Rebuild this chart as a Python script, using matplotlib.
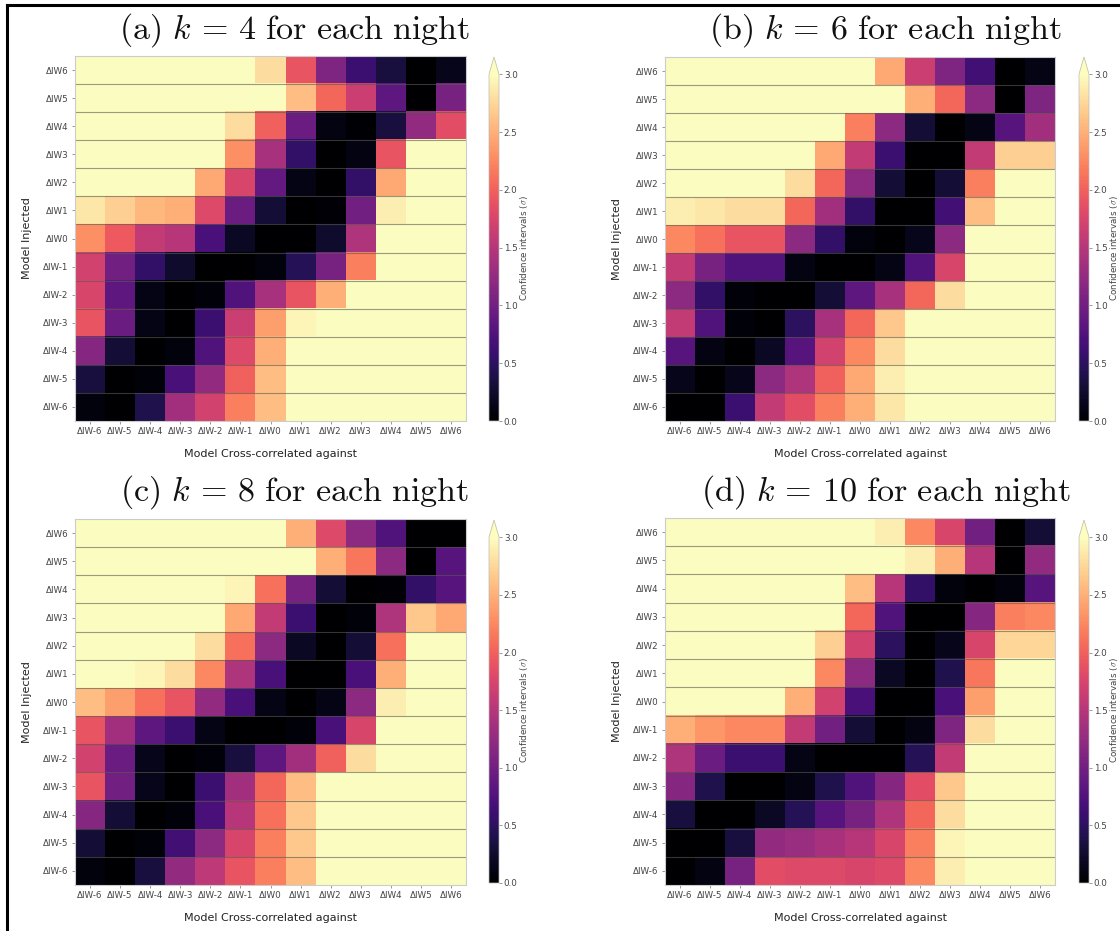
import numpy as np
import matplotlib
matplotlib.use("Agg")
import matplotlib.pyplot as plt
from matplotlib.lines import Line2D

plt.rcParams["mathtext.fontset"] = "cm"
plt.rcParams["font.family"] = ["DejaVu Sans"]

# Model grid: oxygen fugacity offsets relative to the IW buffer
cols = ["ΔIW-6", "ΔIW-5", "ΔIW-4", "ΔIW-3", "ΔIW-2", "ΔIW-1", "ΔIW0",
        "ΔIW1", "ΔIW2", "ΔIW3", "ΔIW4", "ΔIW5", "ΔIW6"]
rows = cols[::-1]  # injected models, top row first

S = 3.5  # saturated (above colour range)

# Confidence intervals (sigma); rows = injected ΔIW6 ... ΔIW-6, cols = ΔIW-6 ... ΔIW6
k4 = [
    [S, S, S, S, S, S, 2.80, 1.90, 1.10, 0.60, 0.35, 0.00, 0.15],
    [S, S, S, S, S, S, S, 2.60, 2.05, 1.65, 0.85, 0.00, 1.05],
    [S, S, S, S, S, 2.80, 2.00, 0.95, 0.10, 0.02, 0.35, 1.25, 1.85],
    [S, S, S, S, S, 2.30, 1.40, 0.55, 0.00, 0.10, 1.90, S, S],
    [S, S, S, S, 2.45, 1.75, 0.90, 0.12, 0.00, 0.55, 2.45, S, S],
    [2.85, 2.70, 2.55, 2.50, 1.80, 0.95, 0.30, 0.00, 0.03, 1.00, 2.90, S, S],
    [2.30, 1.95, 1.60, 1.50, 0.70, 0.20, 0.00, 0.00, 0.25, 1.45, S, S, S],
    [1.70, 1.00, 0.55, 0.25, 0.00, 0.00, 0.08, 0.45, 1.05, 2.20, S, S, S],
    [1.75, 0.85, 0.12, 0.00, 0.05, 0.75, 1.40, 1.90, 2.50, S, S, S, S],
    [1.90, 0.95, 0.12, 0.00, 0.60, 1.65, 2.40, 2.95, S, S, S, S, S],
    [1.15, 0.30, 0.00, 0.08, 0.75, 1.80, 2.50, S, S, S, S, S, S],
    [0.35, 0.00, 0.05, 0.70, 1.25, 2.00, 2.60, S, S, S, S, S, S],
    [0.08, 0.00, 0.40, 1.35, 1.70, 2.20, 2.60, 3.00, S, S, S, S, S],
]

k6 = [
    [S, S, S, S, S, S, S, 2.45, 1.65, 1.10, 0.65, 0.00, 0.12],
    [S, S, S, S, S, S, S, S, 2.50, 2.05, 1.20, 0.00, 1.10],
    [S, S, S, S, S, S, 2.20, 1.20, 0.30, 0.00, 0.12, 0.80, 1.35],
    [S, S, S, S, S, 2.45, 1.60, 0.60, 0.00, 0.00, 1.60, 2.70, 2.70],
    [S, S, S, S, 2.80, 2.05, 1.20, 0.30, 0.00, 0.30, 2.20, S, S],
    [2.90, 2.85, 2.80, 2.80, 2.05, 1.35, 0.55, 0.00, 0.00, 0.65, 2.60, S, S],
    [2.25, 2.10, 1.90, 1.90, 1.20, 0.55, 0.08, 0.00, 0.15, 1.20, S, S, S],
    [1.60, 1.05, 0.75, 0.75, 0.10, 0.00, 0.00, 0.12, 0.75, 1.75, S, S, S],
    [1.20, 0.55, 0.05, 0.00, 0.00, 0.30, 0.85, 1.40, 2.05, 2.80, S, S, S],
    [1.60, 0.75, 0.05, 0.00, 0.50, 1.40, 2.05, 2.65, S, S, S, S, S],
    [0.80, 0.10, 0.00, 0.20, 0.80, 1.70, 2.25, 2.80, S, S, S, S, S],
    [0.15, 0.00, 0.15, 1.20, 1.45, 2.00, 2.45, 2.90, S, S, S, S, S],
    [0.00, 0.00, 0.60, 1.60, 1.85, 2.20, 2.50, 2.85, S, S, S, S, S],
]

k8 = [
    [S, S, S, S, S, S, S, 2.50, 1.80, 1.20, 0.75, 0.00, 0.00],
    [S, S, S, S, S, S, S, S, 2.50, 2.15, 1.20, 0.00, 0.80],
    [S, S, S, S, S, 2.95, 2.10, 1.05, 0.30, 0.00, 0.03, 0.55, 0.80],
    [S, S, S, S, S, 2.45, 1.60, 0.60, 0.00, 0.05, 1.45, 2.65, 2.45],
    [S, S, S, S, 2.80, 2.10, 1.20, 0.20, 0.00, 0.30, 2.10, S, S],
    [S, S, 2.95, 2.80, 2.25, 1.45, 0.70, 0.00, 0.00, 0.70, 2.50, S, S],
    [2.60, 2.40, 2.10, 1.90, 1.25, 0.70, 0.12, 0.00, 0.12, 1.20, 2.90, S, S],
    [1.90, 1.35, 0.85, 0.60, 0.12, 0.00, 0.00, 0.05, 0.70, 1.75, S, S, S],
    [1.70, 0.95, 0.15, 0.00, 0.05, 0.35, 0.85, 1.35, 2.00, 2.80, S, S, S],
    [1.90, 1.00, 0.15, 0.00, 0.60, 1.35, 2.05, 2.60, S, S, S, S, S],
    [1.15, 0.30, 0.00, 0.05, 0.70, 1.50, 2.10, 2.65, S, S, S, S, S],
    [0.30, 0.00, 0.05, 0.65, 1.20, 1.75, 2.20, 2.65, S, S, S, S, S],
    [0.08, 0.00, 0.35, 1.25, 1.55, 1.90, 2.20, 2.60, S, S, S, S, S],
]

k10 = [
    [S, S, S, S, S, S, S, 2.90, 2.25, 1.75, 1.00, 0.00, 0.30],
    [S, S, S, S, S, S, S, S, 2.90, 2.50, 1.50, 0.00, 1.25],
    [S, S, S, S, S, S, 2.60, 1.50, 0.55, 0.08, 0.00, 0.08, 0.80],
    [S, S, S, S, S, S, 2.05, 0.75, 0.00, 0.00, 1.15, 2.20, 2.25],
    [S, S, S, S, S, 2.70, 1.70, 0.50, 0.00, 0.15, 1.75, 2.75, 2.75],
    [S, S, S, S, S, 2.25, 1.20, 0.20, 0.00, 0.40, 2.15, S, S],
    [S, S, S, S, 2.50, 1.70, 0.70, 0.00, 0.00, 0.70, 2.40, S, S],
    [2.50, 2.35, 2.25, 2.25, 1.60, 1.00, 0.30, 0.00, 0.10, 1.10, 2.80, S, S],
    [1.45, 0.95, 0.60, 0.60, 0.12, 0.00, 0.00, 0.00, 0.45, 1.60, S, S, S],
    [1.15, 0.40, 0.00, 0.00, 0.10, 0.40, 0.75, 1.15, 1.85, 2.65, S, S, S],
    [0.35, 0.00, 0.00, 0.20, 0.45, 0.80, 1.05, 1.45, 2.05, 2.80, S, S, S],
    [0.00, 0.00, 0.35, 1.25, 1.30, 1.40, 1.50, 1.75, 2.20, 2.95, S, S, S],
    [0.00, 0.10, 1.05, 1.85, 1.80, 1.80, 1.75, 1.80, 2.25, 2.90, S, S, S],
]

panels = [
    (k4, r"$\mathrm{(a)}\ k\,=\,4\ \mathrm{for\ each\ night}$"),
    (k6, r"$\mathrm{(b)}\ k\,=\,6\ \mathrm{for\ each\ night}$"),
    (k8, r"$\mathrm{(c)}\ k\,=\,8\ \mathrm{for\ each\ night}$"),
    (k10, r"$\mathrm{(d)}\ k\,=\,10\ \mathrm{for\ each\ night}$"),
]

W, H = 1120, 931
fig = plt.figure(figsize=(W / 100, H / 100), dpi=100)


def fx(px):
    return px / W


def fy(py):
    return 1 - py / H


# pixel boxes: (left, top, right, bottom) for heatmap and colorbar
ax_boxes = [(75, 56, 466, 421), (665, 57, 1055, 421),
            (75, 519, 466, 885), (665, 518, 1055, 885)]
cb_boxes = [(489, 57, 499, 421), (1079, 57, 1089, 421),
            (489, 520, 499, 883), (1079, 520, 1089, 883)]
title_pos = [(294, 30), (885, 30), (294, 492), (886, 492)]

cmap = plt.get_cmap("magma")
txt_col = "#444444"

for (data, title), ab, cbb, tp in zip(panels, ax_boxes, cb_boxes, title_pos):
    l, t, r, b = ab
    ax = fig.add_axes([fx(l), fy(b), fx(r - l), (b - t) / H])
    arr = np.array(data)
    im = ax.imshow(arr, cmap=cmap, vmin=0, vmax=3, aspect="auto",
                   interpolation="nearest")
    for yb in np.arange(0.5, len(rows) - 0.5, 1.0):
        ax.axhline(yb, color="#5a5a50", lw=0.8, alpha=0.6)
    ax.set_xticks(range(len(cols)))
    ax.set_xticklabels(cols, fontsize=6.3, color=txt_col)
    ax.set_yticks(range(len(rows)))
    ax.set_yticklabels(rows, fontsize=6.3, color=txt_col)
    ax.tick_params(length=2.5, width=0.6, color="#888888", pad=2)
    for sp in ax.spines.values():
        sp.set_color("#cccccc")
        sp.set_linewidth(0.8)
    ax.set_xlabel("Model Cross-correlated against", fontsize=8, color="#222222",
                  labelpad=9)
    ax.set_ylabel("Model Injected", fontsize=8, color="#222222", labelpad=8)

    cl, ct, cr, cbt = cbb
    cax = fig.add_axes([fx(cl), fy(cbt), fx(cr - cl), (cbt - ct) / H])
    cb = fig.colorbar(im, cax=cax, extend="max")
    cb.set_ticks([0.0, 0.5, 1.0, 1.5, 2.0, 2.5, 3.0])
    cb.ax.tick_params(labelsize=6.3, length=2, width=0.6, pad=1.5,
                      colors="#888888", labelcolor=txt_col)
    cb.outline.set_linewidth(0.5)
    cb.outline.set_edgecolor("#bbbbbb")
    cb.set_label(r"Confidence intervals ($\sigma$)", fontsize=6.3,
                 color=txt_col, labelpad=0)

    fig.text(fx(tp[0]), fy(tp[1]), title, fontsize=24.5, ha="center",
             va="center", color="#111111")

# frame edges around the figure
fig.add_artist(Line2D([fx(7), 1.0], [fy(5), fy(5)], color="black", lw=2.2,
                      transform=fig.transFigure))
fig.add_artist(Line2D([fx(7), fx(7)], [fy(5), 0.0], color="black", lw=2.2,
                      transform=fig.transFigure))

fig.savefig("out.png", dpi=100)
